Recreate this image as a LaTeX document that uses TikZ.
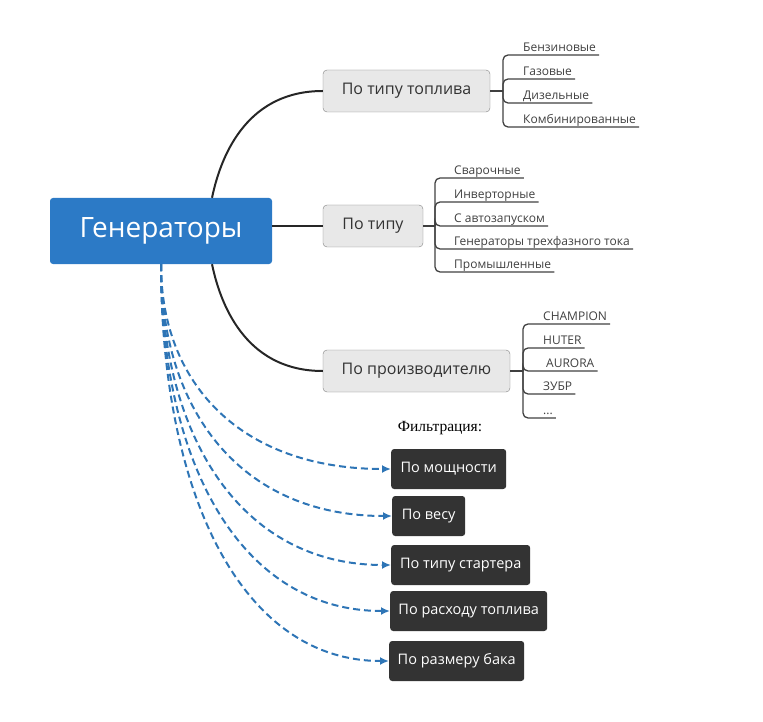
\documentclass[tikz,border=0pt]{standalone}
\usepackage{fontspec}
\setmainfont{Open Sans}
\newfontfamily\filtfont{Liberation Serif}
\usetikzlibrary{arrows.meta}
\definecolor{genblue}{RGB}{44,122,198}
\definecolor{dashblue}{RGB}{46,117,182}
\definecolor{topicgray}{RGB}{232,232,232}
\definecolor{filtdark}{RGB}{51,51,51}

\begin{document}
\begin{tikzpicture}[x=1pt,y=-1pt,
  gen/.style={fill=genblue,text=white,rounded corners=3pt,minimum width=222pt,minimum height=66pt,inner sep=4pt,font=\fontsize{28}{32}\selectfont},
  topic/.style={draw=black!50,fill=topicgray,rounded corners=4pt,minimum height=42pt,inner xsep=6pt,text=black!80,font=\fontsize{16}{19}\selectfont},
  leaf/.style={anchor=south west,inner xsep=3pt,inner ysep=0pt,text depth=3.5pt,text=black!75,font=\fontsize{12}{14}\selectfont},
  filt/.style={anchor=west,fill=filtdark,text=white,rounded corners=3pt,minimum height=40pt,inner xsep=6pt,font=\fontsize{14.5}{17}\selectfont},
  mainline/.style={draw=black!85,line width=2pt},
  branch/.style={draw=black!75,line width=1.3pt,rounded corners=5pt},
  filtline/.style={draw=dashblue,line width=2pt,dash pattern=on 7pt off 4pt,-{Latex[length=9pt,width=8pt]}}]
\useasboundingbox (0,0) rectangle (763,722);

\node[gen] (G) at (161,231) {Генераторы};

\node[topic,minimum width=167pt] (T1) at (406.5,91) {По типу топлива};
\node[topic,minimum width=100pt] (T2) at (373,226) {По типу};
\node[topic,minimum width=187pt] (T3) at (416.5,371) {По производителю};

\draw[mainline] ([xshift=51pt]G.north) .. controls (222,150) and (250,91) .. (T1.west);
\draw[mainline] (T2.west -| G.east) -- (T2.west);
\draw[mainline] ([xshift=51pt]G.south) .. controls (222,312) and (250,371) .. (T3.west);

\coordinate (J1) at (503,91);
\coordinate (J2) at (435,226);
\coordinate (J3) at (523,371);
\draw[branch] (T1.east) -- (J1);
\draw[branch] (T2.east) -- (J2);
\draw[branch] (T3.east) -- (J3);

\node[leaf] (L11) at (520,55) {Бензиновые};
\node[leaf] (L12) at (520,79) {Газовые};
\node[leaf] (L13) at (520,103) {Дизельные};
\node[leaf] (L14) at (520,127) {Комбинированные};
\draw[branch] (J1) |- (L11.south east);
\draw[branch] (J1) |- (L12.south east);
\draw[branch] (J1) |- (L13.south east);
\draw[branch] (J1) |- (L14.south east);

\node[leaf] (L21) at (451,178) {Сварочные};
\node[leaf] (L22) at (451,202) {Инверторные};
\node[leaf] (L23) at (451,226) {С автозапуском};
\node[leaf] (L24) at (451,249) {Генераторы трехфазного тока};
\node[leaf] (L25) at (451,272) {Промышленные};
\draw[branch] (J2) |- (L21.south east);
\draw[branch] (J2) |- (L22.south east);
\draw[branch] (J2) |- (L23.south east);
\draw[branch] (J2) |- (L24.south east);
\draw[branch] (J2) |- (L25.south east);

\node[leaf] (L31) at (540,324) {CHAMPION};
\node[leaf] (L32) at (540,348) {HUTER};
\node[leaf] (L33) at (543,371) {AURORA};
\node[leaf] (L34) at (540,394) {ЗУБР};
\node[leaf] (L35) at (540,418) {...};
\draw[branch] (J3) |- (L31.south east);
\draw[branch] (J3) |- (L32.south east);
\draw[branch] (J3) |- (L33.south east);
\draw[branch] (J3) |- (L34.south east);
\draw[branch] (J3) |- (L35.south east);

\node[font=\filtfont\fontsize{15.5}{18}\selectfont] (FT) at (440,428) {Фильтрация:};

\node[filt,minimum width=115pt] (F1) at (391,469) {По мощности};
\node[filt,minimum width=73pt] (F2) at (392,516) {По весу};
\node[filt,minimum width=139pt] (F3) at (391,565) {По типу стартера};
\node[filt,minimum width=157pt] (F4) at (390,611) {По расходу топлива};
\node[filt,minimum width=135pt] (F5) at (389,661) {По размеру бака};

\draw[filtline] (G.south) .. controls (161,384) and (241,469) .. (F1.west);
\draw[filtline] (G.south) .. controls (161,411) and (241,516) .. (F2.west);
\draw[filtline] (G.south) .. controls (161,437) and (241,565) .. (F3.west);
\draw[filtline] (G.south) .. controls (161,464) and (241,611) .. (F4.west);
\draw[filtline] (G.south) .. controls (161,493) and (241,661) .. (F5.west);
\end{tikzpicture}
\end{document}
